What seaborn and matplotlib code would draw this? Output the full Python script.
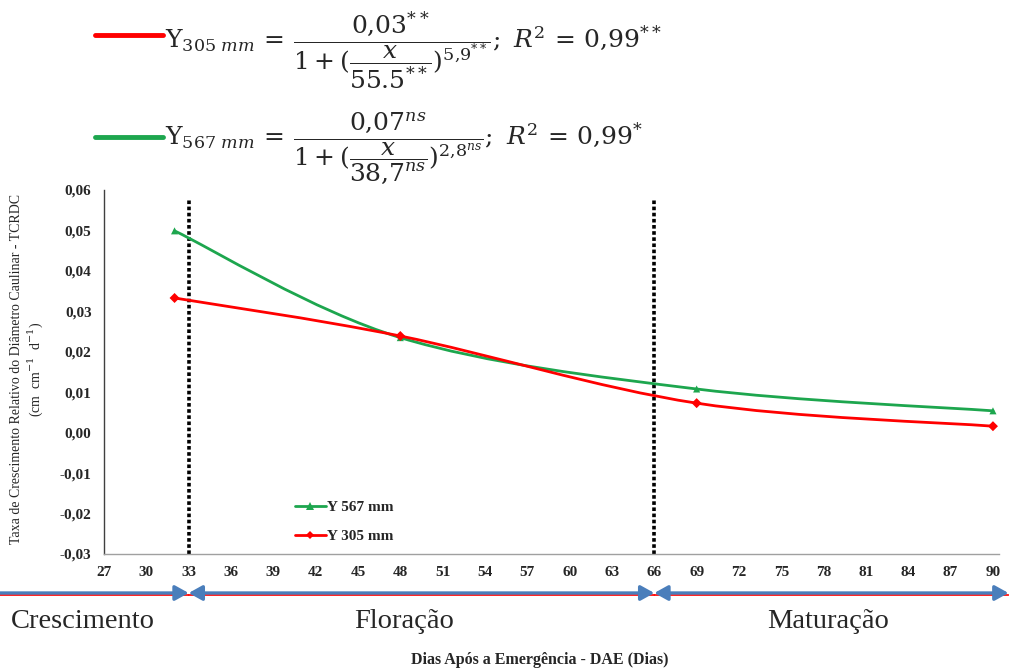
import numpy as np
import pandas as pd
import matplotlib
matplotlib.use("Agg")
import matplotlib.pyplot as plt
import seaborn as sns
from matplotlib.path import Path
from matplotlib.patches import PathPatch
from matplotlib.lines import Line2D
import matplotlib.transforms as mtransforms

# ---------------- data ----------------
days = [32, 48, 69, 90]
y_567 = [0.0499, 0.0235, 0.0108, 0.0054]
y_305 = [0.0333, 0.0239, 0.0073, 0.0016]
series_labels = ["Y 567 mm", "Y 305 mm"]
x_ticks = list(range(27, 91, 3))
y_ticks = [-0.03, -0.02, -0.01, 0.00, 0.01, 0.02, 0.03, 0.04, 0.05, 0.06]
y_tick_labels = ["-0,03", "-0,02", "-0,01", "0,00", "0,01", "0,02", "0,03",
                 "0,04", "0,05", "0,06"]
phase_bounds = [33, 66]
phase_labels = ["Crescimento", "Floração", "Maturação"]
eq_305 = (r"$\mathrm{Y}_{305\ mm}\,=\,\dfrac{0{,}03^{**}}"
          r"{1+(\dfrac{x}{55.5^{**}})^{5{,}9^{**}}};\ R^2\,=\,0{,}99^{**}$")
eq_567 = (r"$\mathrm{Y}_{567\ mm}\,=\,\dfrac{0{,}07^{ns}}"
          r"{1+(\dfrac{x}{38{,}7^{ns}})^{2{,}8^{ns}}};\ R^2\,=\,0{,}99^{*}$")

GREEN = "#1DA64E"
RED = "#FF0000"
BLUE = "#4A7EBB"

sns.set_theme(style="white")
plt.rcParams["font.family"] = ["Liberation Serif", "DejaVu Serif"]
plt.rcParams["mathtext.fontset"] = "dejavuserif"

fig = plt.figure(figsize=(10.09, 6.70), dpi=100)
ax = fig.add_axes([104 / 1009, 1 - 554 / 670, 894.6 / 1009, 364 / 670])

df = pd.DataFrame({
    "DAE": days * 2,
    "TCRDC": y_567 + y_305,
    "serie": [series_labels[0]] * len(days) + [series_labels[1]] * len(days),
})


def smooth_path(xs, ys):
    """Excel-style smoothed line (Catmull-Rom as cubic Bezier) through the points."""
    pts = np.column_stack([xs, ys]).astype(float)
    n = len(pts)
    verts = [pts[0]]
    codes = [Path.MOVETO]
    for i in range(n - 1):
        p_prev = pts[i - 1] if i > 0 else pts[i]
        p_next2 = pts[i + 2] if i + 2 < n else pts[i + 1]
        c1 = pts[i] + (pts[i + 1] - p_prev) / 6.0
        c2 = pts[i + 1] - (p_next2 - pts[i]) / 6.0
        verts += [c1, c2, pts[i + 1]]
        codes += [Path.CURVE4] * 3
    return Path(verts, codes)


for ys, col in [(y_567, GREEN), (y_305, RED)]:
    ax.add_patch(PathPatch(smooth_path(days, ys), fill=False, edgecolor=col,
                           lw=2.0, zorder=3, capstyle="round"))

sns.scatterplot(data=df, x="DAE", y="TCRDC", hue="serie", style="serie",
                markers={series_labels[0]: "^", series_labels[1]: "D"},
                palette={series_labels[0]: GREEN, series_labels[1]: RED},
                s=26, edgecolor="none", ax=ax, legend=False, zorder=4)

# phase boundaries
for b in phase_bounds:
    ax.axvline(b, ymin=0, ymax=0.975, color="black", lw=2.6,
               linestyle=(0, (1.0, 0.7)), zorder=2)

ax.set_xlim(27, 90.4)
ax.set_ylim(-0.03, 0.06)
ax.set_xticks(x_ticks)
ax.set_xticklabels([str(t) for t in x_ticks], fontweight="bold", fontsize=11)
ax.set_yticks(y_ticks)
ax.set_yticklabels(y_tick_labels, fontweight="bold", fontsize=11)
ax.tick_params(axis="x", direction="inout", length=5, width=1, color="#909090", pad=6)
ax.tick_params(axis="y", direction="out", length=4, width=1, color="#606060", pad=5)
for s in ["top", "right"]:
    ax.spines[s].set_visible(False)
ax.spines["left"].set_color("#404040")
ax.spines["left"].set_linewidth(1.0)
ax.spines["bottom"].set_color("#A0A0A0")
ax.spines["bottom"].set_linewidth(1.0)
ax.set_xlabel("")
ax.set_ylabel("Taxa de Crescimento Relativo do Diâmetro Caulinar - TCRDC\n"
              r"(cm  cm$^{-1}$  d$^{-1}$)", fontsize=10, linespacing=1.15)
ax.yaxis.set_label_coords(-0.066, 0.507)

# legend
handles = [Line2D([], [], color=GREEN, lw=2, marker="^", markersize=6, markeredgewidth=0),
           Line2D([], [], color=RED, lw=2, marker="D", markersize=4.5, markeredgewidth=0)]
ax.legend(handles, series_labels, loc="upper left", bbox_to_anchor=(0.205, 0.168),
          frameon=False, prop={"weight": "bold", "size": 11}, handlelength=2.0,
          handletextpad=0.1, labelspacing=1.0, borderpad=0)

# phase arrows below the axis
blend = mtransforms.blended_transform_factory(ax.transData, fig.transFigure)
y_arr = 1 - 593 / 670
segments = [(19.5, phase_bounds[0], "-|>"),
            (phase_bounds[0], phase_bounds[1], "<|-|>"),
            (phase_bounds[1], 91.1, "<|-|>")]
for x0, x1, style in segments:
    ax.annotate("", xy=(x1, y_arr - 0.003), xytext=(x0, y_arr - 0.003),
                xycoords=blend, textcoords=blend, annotation_clip=False,
                arrowprops=dict(arrowstyle="-", color=RED, lw=1.2,
                                shrinkA=0, shrinkB=0))
    ax.annotate("", xy=(x1, y_arr), xytext=(x0, y_arr),
                xycoords=blend, textcoords=blend, annotation_clip=False,
                arrowprops=dict(arrowstyle=style + ",head_length=0.9,head_width=0.5",
                                color=BLUE, lw=2.4, mutation_scale=9,
                                shrinkA=0, shrinkB=0))

label_x = [25.5, 48.3, 78.3]
for lx, txt in zip(label_x, phase_labels):
    ax.text(lx, 1 - 622 / 670, txt, transform=blend, ha="center", va="center",
            fontsize=20.5, clip_on=False)

fig.text(540 / 1009, 1 - 660 / 670, "Dias Após a Emergência - DAE (Dias)",
         ha="center", va="center", fontsize=11.5, fontweight="bold")

# equations at top
fig.add_artist(Line2D([95 / 1009, 163 / 1009], [1 - 35 / 670] * 2, color=RED, lw=3.5,
                      transform=fig.transFigure))
fig.add_artist(Line2D([95 / 1009, 163 / 1009], [1 - 137 / 670] * 2, color=GREEN, lw=3.5,
                      transform=fig.transFigure))
fig.text(165 / 1009, 1 - 50 / 670, eq_305, fontsize=18, va="center", ha="left")
fig.text(165 / 1009, 1 - 148 / 670, eq_567, fontsize=18, va="center", ha="left")

fig.savefig("out.png", dpi=100)
